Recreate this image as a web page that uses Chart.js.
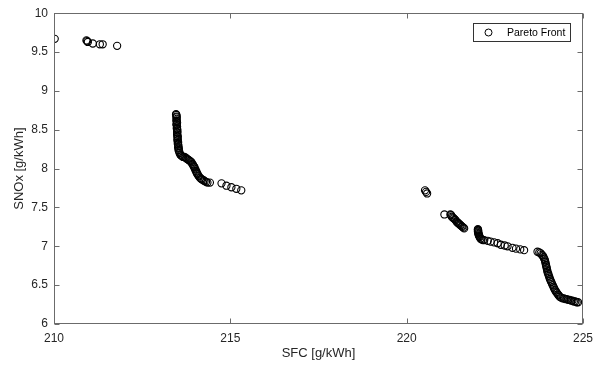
<!DOCTYPE html>
<html>
<head>
<meta charset="utf-8">
<script src="https://cdn.jsdelivr.net/npm/chart.js@4"></script>
<style>
  html, body { margin: 0; padding: 0; background: #fff; }
  #wrap { width: 603px; height: 366px; }
</style>
</head>
<body>
<div id="wrap"><canvas id="myChart" width="603" height="366"></canvas></div>
<script>
// Pareto front points
var sfc = [
  210.02, 210.92, 210.94, 210.96, 211.10, 211.30, 211.38, 211.79,
  213.46, 213.47, 213.48, 213.47, 213.48, 213.47, 213.48, 213.49, 213.47, 213.48,
  213.49, 213.48, 213.49, 213.50, 213.49, 213.50, 213.49, 213.50, 213.51, 213.50,
  213.51, 213.50, 213.52, 213.51, 213.52, 213.53, 213.52, 213.54, 213.53, 213.55,
  213.56, 213.58, 213.60, 213.63, 213.66, 213.70, 213.73, 213.76, 213.79, 213.82,
  213.85, 213.88, 213.90, 213.92, 213.94, 213.96, 213.98, 213.99, 214.01, 214.02,
  214.04, 214.05, 214.07, 214.09, 214.11, 214.14, 214.17, 214.20, 214.24, 214.27,
  214.31, 214.35, 214.42,
  214.75, 214.89, 215.03, 215.17, 215.31,
  220.52, 220.55, 220.58,
  221.07, 221.24, 221.26, 221.28, 221.31, 221.33, 221.36, 221.38, 221.41, 221.43,
  221.46, 221.48, 221.51, 221.53, 221.56, 221.58, 221.61, 221.63,
  222.02, 222.02, 222.03, 222.02, 222.03, 222.03, 222.04, 222.04, 222.05, 222.06,
  222.07, 222.09, 222.12, 222.16, 222.20, 222.30,
  222.38, 222.48, 222.58, 222.67, 222.78, 222.86, 223.00, 223.10, 223.22, 223.33,
  223.71, 223.76, 223.80, 223.83, 223.86, 223.88, 223.90, 223.92, 223.93, 223.94,
  223.95, 223.96, 223.97, 223.98, 223.99, 224.00, 224.02, 224.03, 224.05, 224.06,
  224.08, 224.10, 224.12, 224.14, 224.16, 224.18, 224.20, 224.22, 224.24, 224.26,
  224.29, 224.31, 224.34, 224.38, 224.42, 224.46, 224.50, 224.54, 224.58, 224.62,
  224.66, 224.70, 224.74, 224.78, 224.82, 224.86
];
var snox = [
  9.67, 9.65, 9.64, 9.63, 9.61, 9.60, 9.60, 9.58,
  8.70, 8.69, 8.67, 8.66, 8.64, 8.62, 8.61, 8.59, 8.57, 8.56,
  8.54, 8.52, 8.51, 8.49, 8.47, 8.46, 8.44, 8.42, 8.41, 8.39,
  8.37, 8.36, 8.34, 8.32, 8.31, 8.29, 8.27, 8.26, 8.24, 8.22,
  8.20, 8.18, 8.17, 8.16, 8.15, 8.15, 8.14, 8.13, 8.12, 8.11,
  8.10, 8.09, 8.08, 8.06, 8.05, 8.03, 8.02, 8.00, 7.99, 7.97,
  7.96, 7.94, 7.93, 7.91, 7.90, 7.88, 7.87, 7.86, 7.85, 7.84,
  7.83, 7.82, 7.82,
  7.81, 7.78, 7.76, 7.74, 7.72,
  7.72, 7.70, 7.68,
  7.41, 7.41, 7.40, 7.38, 7.37, 7.36, 7.35, 7.34, 7.32, 7.31,
  7.30, 7.29, 7.28, 7.27, 7.26, 7.25, 7.24, 7.23,
  7.22, 7.21, 7.20, 7.19, 7.18, 7.17, 7.16, 7.15, 7.14, 7.13,
  7.12, 7.10, 7.09, 7.08, 7.08, 7.07,
  7.06, 7.05, 7.04, 7.02, 7.01, 7.00, 6.98, 6.97, 6.96, 6.95,
  6.93, 6.92, 6.91, 6.89, 6.88, 6.86, 6.84, 6.82, 6.80, 6.78,
  6.76, 6.74, 6.72, 6.70, 6.68, 6.66, 6.64, 6.62, 6.60, 6.58,
  6.56, 6.54, 6.52, 6.50, 6.48, 6.46, 6.44, 6.43, 6.41, 6.40,
  6.38, 6.37, 6.35, 6.34, 6.33, 6.33, 6.32, 6.32, 6.31, 6.31,
  6.30, 6.30, 6.29, 6.29, 6.28, 6.28
];
var xTicks = [210, 215, 220, 225];
var yTicks = [6, 6.5, 7, 7.5, 8, 8.5, 9, 9.5, 10];
var seriesName = 'Pareto Front';

var points = sfc.map(function(x, i) { return {x: x, y: snox[i]}; });

var axisColor = '#6b6b6b';
var textColor = '#262626';
var fontFam = '"Liberation Sans", Arial, Helvetica, sans-serif';

// box, inward ticks and legend the MATLAB way
var matlabFrame = {
  id: 'matlabFrame',
  afterDraw: function(chart) {
    var ctx = chart.ctx;
    var a = chart.chartArea;
    var xs = chart.scales.x, ys = chart.scales.y;
    var L = Math.round(a.left) + 0.5, R = Math.round(a.right) - 0.5;
    var T = Math.round(a.top) + 0.5, B = Math.round(a.bottom) - 0.5;
    ctx.save();
    ctx.strokeStyle = axisColor;
    ctx.lineWidth = 1;
    ctx.strokeRect(L, T, R - L, B - T);
    ctx.beginPath();
    xTicks.forEach(function(v) {
      var px = Math.round(xs.getPixelForValue(v)) + 0.5;
      ctx.moveTo(px, B); ctx.lineTo(px, B - 5);
      ctx.moveTo(px, T); ctx.lineTo(px, T + 5);
    });
    yTicks.forEach(function(v) {
      var py = Math.round(ys.getPixelForValue(v)) + 0.5;
      ctx.moveTo(L, py); ctx.lineTo(L + 5, py);
      ctx.moveTo(R, py); ctx.lineTo(R - 5, py);
    });
    ctx.stroke();

    // legend box
    var lx = 473.5, ly = 23.5, lw = 97, lh = 18;
    ctx.fillStyle = '#fff';
    ctx.fillRect(lx, ly, lw, lh);
    ctx.strokeStyle = '#333';
    ctx.strokeRect(lx, ly, lw, lh);
    ctx.beginPath();
    ctx.strokeStyle = '#000';
    ctx.arc(488.5, 32.5, 3.5, 0, Math.PI * 2);
    ctx.stroke();
    ctx.fillStyle = '#000';
    ctx.font = '10.5px ' + fontFam;
    ctx.textBaseline = 'middle';
    ctx.textAlign = 'left';
    ctx.fillText(seriesName, 507, 33);
    ctx.restore();
  }
};

var ctx = document.getElementById('myChart');
var myChart = new Chart(ctx, {
  type: 'scatter',
  data: {
    datasets: [{
      label: seriesName,
      data: points,
      pointStyle: 'circle',
      pointRadius: 3.6,
      pointHoverRadius: 3.6,
      backgroundColor: 'rgba(0,0,0,0)',
      borderColor: '#000',
      borderWidth: 1.1
    }]
  },
  options: {
    responsive: false,
    animation: false,
    events: [],
    layout: { padding: { top: 10, right: 20, left: 0, bottom: 0 } },
    plugins: {
      legend: { display: false },
      tooltip: { enabled: false }
    },
    scales: {
      x: {
        type: 'linear',
        min: 210,
        max: 225,
        afterBuildTicks: function(scale) {
          scale.ticks = xTicks.map(function(v) { return {value: v}; });
        },
        afterFit: function(scale) { scale.height = 42; },
        ticks: {
          color: textColor,
          font: { family: fontFam, size: 12 },
          padding: 7,
          maxRotation: 0,
          callback: function(v) { return String(v); }
        },
        grid: { display: false, drawTicks: false },
        border: { display: false },
        title: {
          display: true,
          text: 'SFC [g/kWh]',
          color: textColor,
          font: { family: fontFam, size: 13 },
          padding: { top: 0, bottom: 5 }
        }
      },
      y: {
        type: 'linear',
        min: 6,
        max: 10,
        afterBuildTicks: function(scale) {
          scale.ticks = yTicks.map(function(v) { return {value: v}; });
        },
        afterFit: function(scale) { scale.width = 54; },
        ticks: {
          color: textColor,
          font: { family: fontFam, size: 12 },
          padding: 6,
          callback: function(v) { return String(v); }
        },
        grid: { display: false, drawTicks: false },
        border: { display: false },
        title: {
          display: true,
          text: 'SNOx [g/kWh]',
          color: textColor,
          font: { family: fontFam, size: 13 },
          padding: { top: 12, bottom: 0 }
        }
      }
    }
  },
  plugins: [matlabFrame]
});
</script>
</body>
</html>
